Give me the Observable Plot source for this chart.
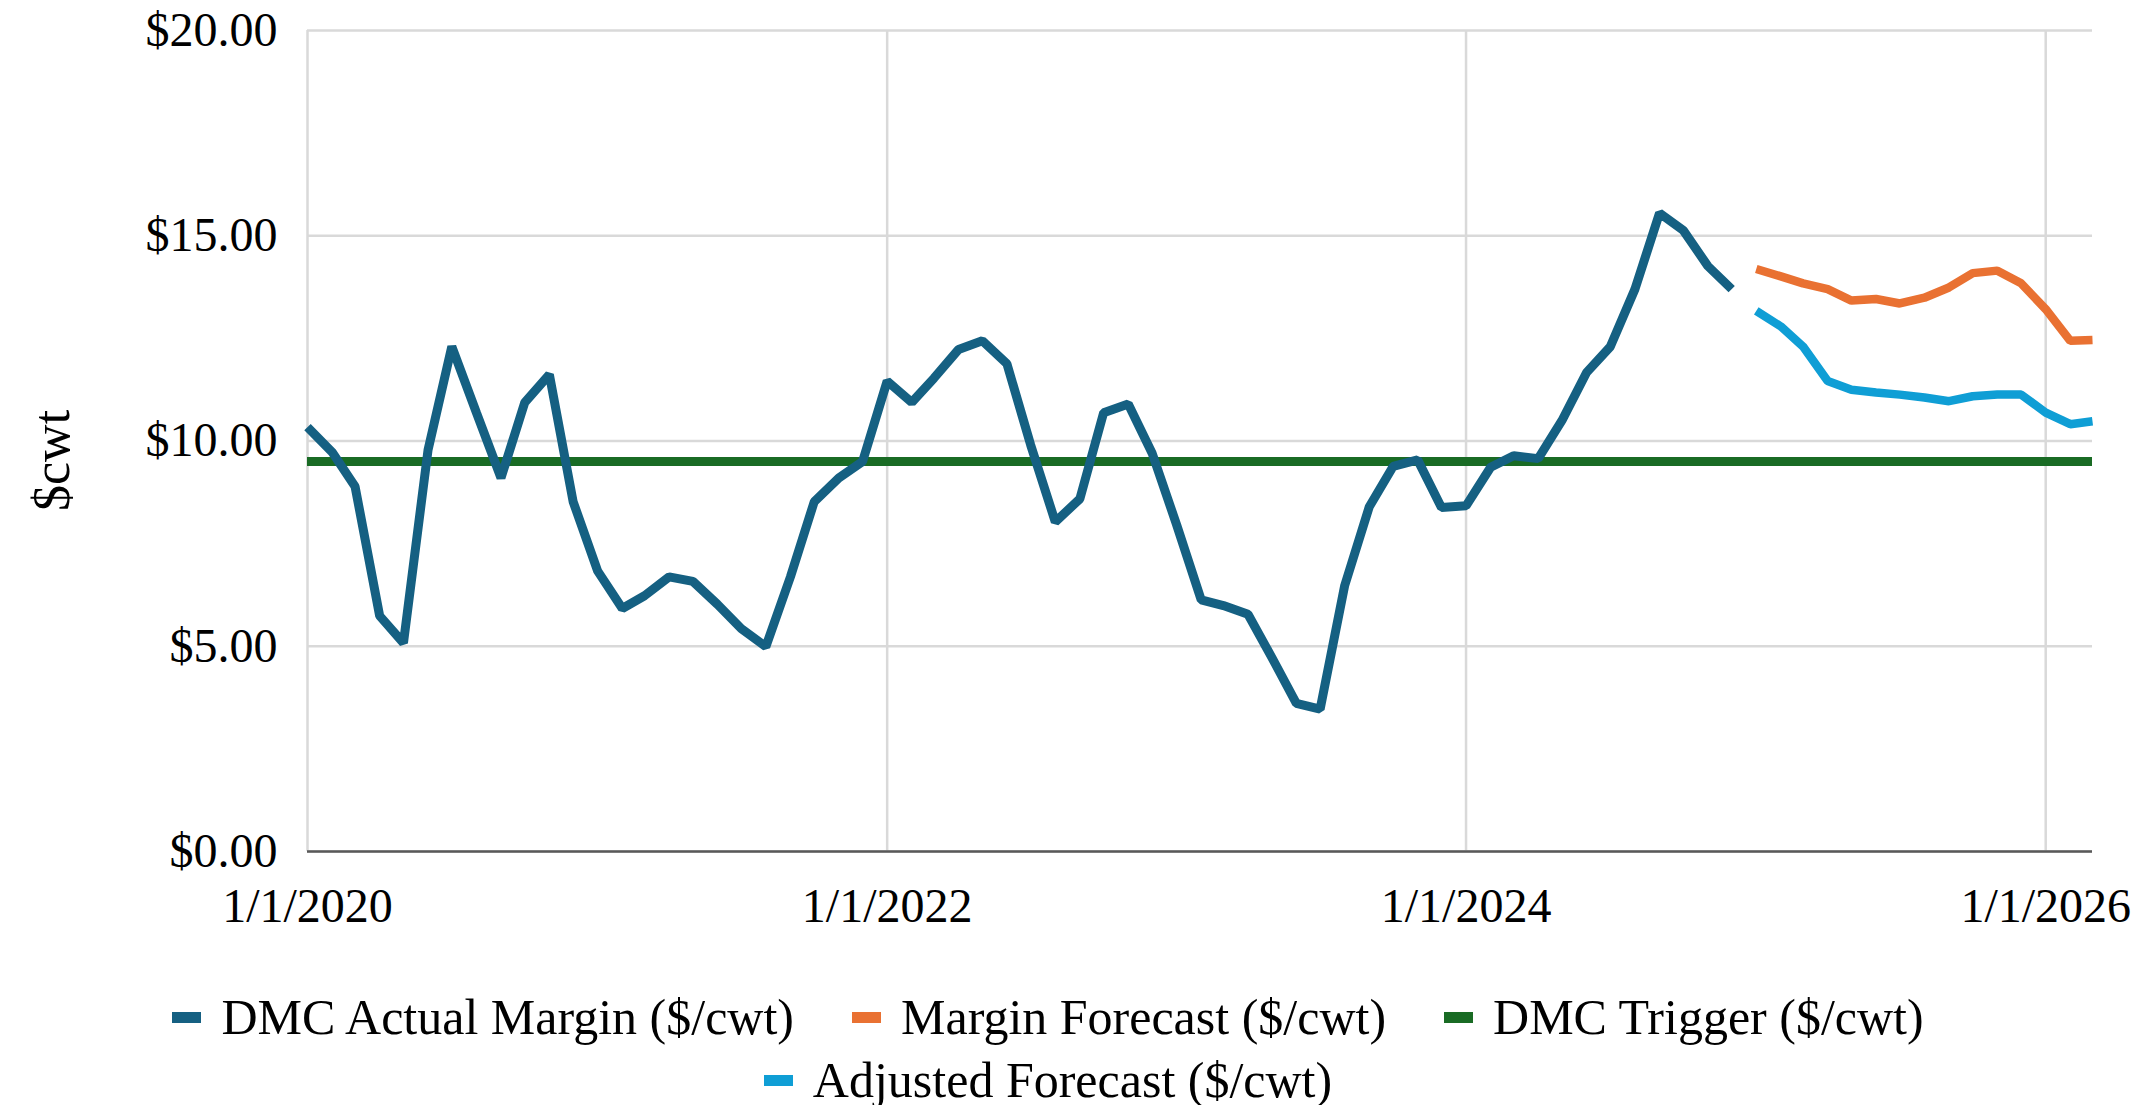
<!DOCTYPE html>
<html>
<head>
<meta charset="utf-8">
<script src="https://cdn.jsdelivr.net/npm/d3@7"></script>
<script src="https://cdn.jsdelivr.net/npm/@observablehq/plot@0.6"></script>
<style>
  html, body { margin: 0; padding: 0; background: #fff; }
  body { width: 2151px; height: 1105px; overflow: hidden; font-family: "Liberation Serif", "Times New Roman", serif; }
  #legend { width: 2096px; display: flex; flex-wrap: wrap; justify-content: center; column-gap: 58px; row-gap: 0; padding-top: 36px; font-size: 50px; line-height: 63px; color: #000; }
  .item { display: flex; align-items: center; white-space: nowrap; }
  .sw { width: 29px; height: 11px; margin-right: 20px; }
</style>
</head>
<body>
<div id="chart"></div>
<div id="legend"></div>
<script>
// ---- data ----
const actualStart = "2020-01-01";
const actualValues = [
  10.34, 9.73, 8.89, 5.74, 5.08, 9.78, 12.30, 10.69, 9.10, 10.94, 11.62, 8.52,
  6.83, 5.92, 6.23, 6.69, 6.58, 6.02, 5.43, 4.99, 6.69, 8.52, 9.10, 9.50,
  11.46, 10.94, 11.53, 12.23, 12.44, 11.88, 9.90, 8.03, 8.59, 10.69, 10.90, 9.71,
  7.96, 6.13, 5.99, 5.78, 4.73, 3.61, 3.47, 6.48, 8.40, 9.38, 9.54, 8.38,
  8.42, 9.36, 9.64, 9.57, 10.50, 11.67, 12.30, 13.70, 15.55, 15.13, 14.26, 13.70
];
const forecastStart = "2025-01-01";
const marginForecast = [14.19, 14.01, 13.84, 13.70, 13.42, 13.46, 13.35, 13.49, 13.74, 14.09, 14.15, 13.84, 13.21, 12.44, 12.46];
const adjustedForecast = [13.17, 12.79, 12.30, 11.46, 11.25, 11.18, 11.13, 11.06, 10.97, 11.09, 11.13, 11.13, 10.69, 10.41, 10.48];
const triggerValue = [9.5];
const xDomain = ["2020-01-01", "2026-03-01"];
const xTicks = ["2020-01-01", "2022-01-01", "2024-01-01", "2026-01-01"];
const yTicks = [0, 5, 10, 15, 20];
const yLabel = ["$cwt"];
const seriesNames = ["DMC Actual Margin ($/cwt)", "Margin Forecast ($/cwt)", "DMC Trigger ($/cwt)", "Adjusted Forecast ($/cwt)"];
const seriesColors = ["#156082", "#E97132", "#196B24", "#0F9ED5"];

// ---- build tables ----
const toSeries = (start, vals) => vals.map((v, i) => ({date: d3.utcMonth.offset(new Date(start), i), value: v}));
const actual = toSeries(actualStart, actualValues);
const margin = toSeries(forecastStart, marginForecast);
const adjusted = toSeries(forecastStart, adjustedForecast);
const xT = xTicks.map(d => new Date(d));
const serif = "'Liberation Serif', 'Times New Roman', serif";

const chart = Plot.plot({
  width: 2151,
  height: 950,
  marginTop: 30,
  marginBottom: 99,
  marginLeft: 307,
  marginRight: 59,
  style: {fontFamily: serif, fontSize: "48px", color: "#000", background: "#fff", overflow: "visible"},
  x: {type: "utc", domain: xDomain.map(d => new Date(d)), ticks: xT,
      tickFormat: d => `${d.getUTCMonth() + 1}/${d.getUTCDate()}/${d.getUTCFullYear()}`,
      tickSize: 0, tickPadding: 36, label: null},
  y: {domain: [0, 20], ticks: yTicks, tickFormat: d => "$" + d.toFixed(2),
      tickSize: 0, tickPadding: 30, label: null},
  marks: [
    Plot.gridY(yTicks, {stroke: "#d9d9d9", strokeOpacity: 1, strokeWidth: 2.5}),
    Plot.gridX(xT, {stroke: "#d9d9d9", strokeOpacity: 1, strokeWidth: 2.5}),
    Plot.ruleY([0], {stroke: "#595959", strokeWidth: 2.5}),
    Plot.ruleY(triggerValue, {stroke: seriesColors[2], strokeWidth: 9}),
    Plot.lineY(actual, {x: "date", y: "value", stroke: seriesColors[0], strokeWidth: 9, strokeLinejoin: "miter", strokeLinecap: "butt"}),
    Plot.lineY(margin, {x: "date", y: "value", stroke: seriesColors[1], strokeWidth: 8.5, strokeLinejoin: "miter", strokeLinecap: "butt"}),
    Plot.lineY(adjusted, {x: "date", y: "value", stroke: seriesColors[3], strokeWidth: 8.5, strokeLinejoin: "miter", strokeLinecap: "butt"}),
    Plot.text(yLabel, {text: d => d, frameAnchor: "left", dx: -255, dy: 70, rotate: -90, fontSize: 52, fontFamily: serif, fill: "#000"})
  ]
});
document.getElementById("chart").appendChild(chart);

const legend = document.getElementById("legend");
seriesNames.forEach((name, i) => {
  const it = document.createElement("div");
  it.className = "item";
  const sw = document.createElement("span");
  sw.className = "sw";
  sw.style.background = seriesColors[i];
  const tx = document.createElement("span");
  tx.textContent = name;
  it.appendChild(sw); it.appendChild(tx);
  legend.appendChild(it);
});
</script>
</body>
</html>
